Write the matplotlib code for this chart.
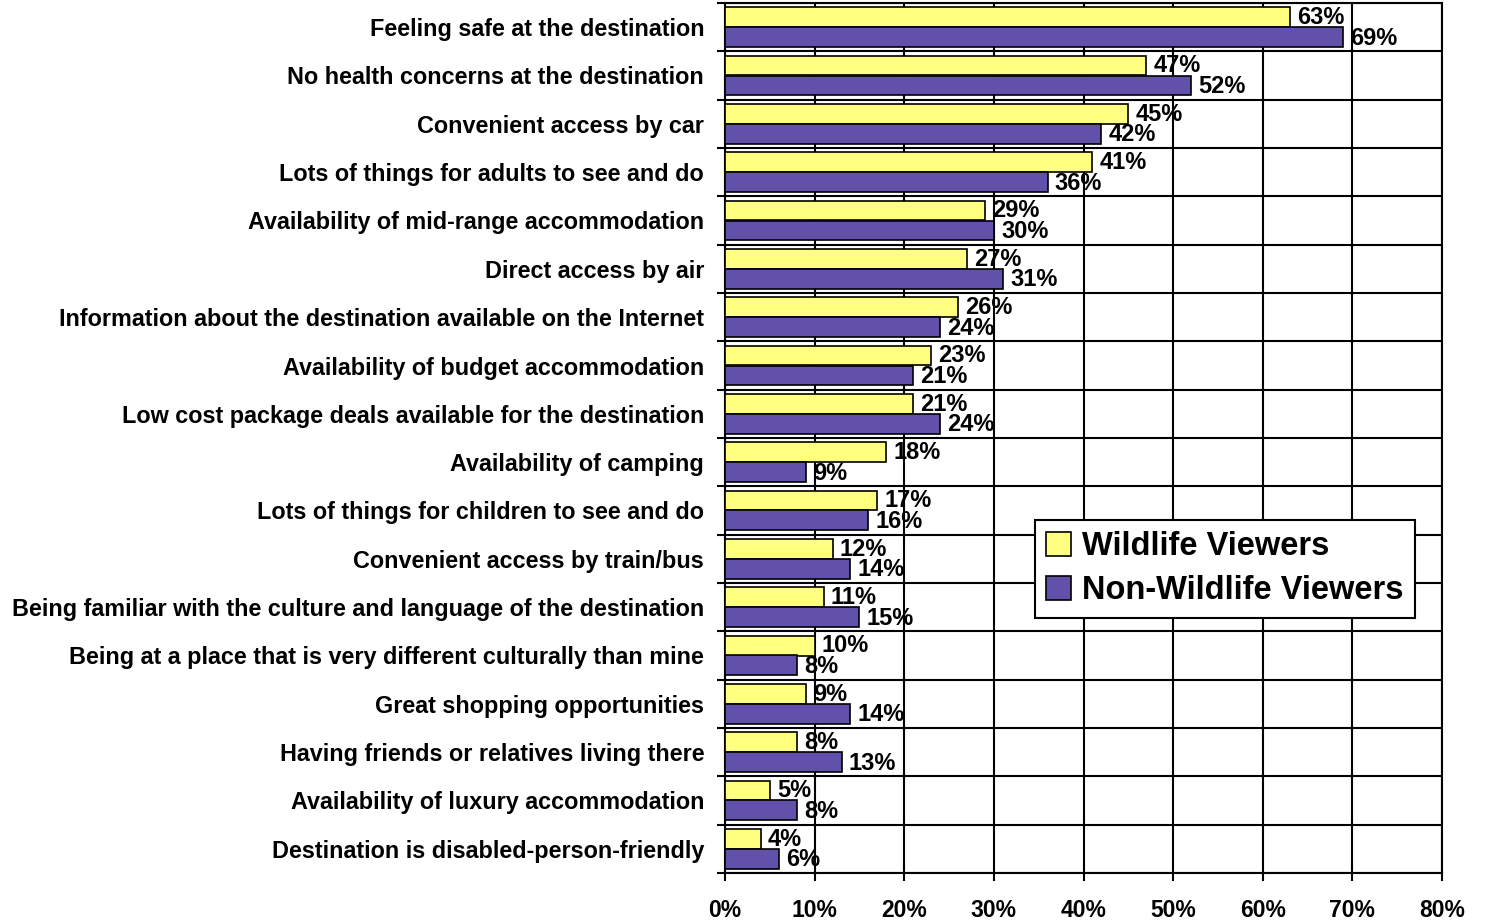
import matplotlib
matplotlib.use("Agg")
import matplotlib.pyplot as plt
import numpy as np

plt.rcParams["font.family"] = ["Liberation Sans", "DejaVu Sans"]

categories = [
    "Feeling safe at the destination",
    "No health concerns at the destination",
    "Convenient access by car",
    "Lots of things for adults to see and do",
    "Availability of mid-range accommodation",
    "Direct access by air",
    "Information about the destination available on the Internet",
    "Availability of budget accommodation",
    "Low cost package deals available for the destination",
    "Availability of camping",
    "Lots of things for children to see and do",
    "Convenient access by train/bus",
    "Being familiar with the culture and language of the destination",
    "Being at a place that is very different culturally than mine",
    "Great shopping opportunities",
    "Having friends or relatives living there",
    "Availability of luxury accommodation",
    "Destination is disabled-person-friendly",
]
wildlife = [63, 47, 45, 41, 29, 27, 26, 23, 21, 18, 17, 12, 11, 10, 9, 8, 5, 4]
non_wildlife = [69, 52, 42, 36, 30, 31, 24, 21, 24, 9, 16, 14, 15, 8, 14, 13, 8, 6]
xticks = [0, 10, 20, 30, 40, 50, 60, 70, 80]

yellow = "#FFFF80"
purple = "#6251AA"

fig = plt.figure(figsize=(14.86, 9.23), dpi=100)
ax = fig.add_axes([725 / 1486, 50 / 923, 717 / 1486, 870 / 923])

y = np.arange(len(categories))
h = 0.41
ax.barh(y - 0.205, wildlife, height=h, color=yellow, edgecolor="black", linewidth=1.2,
        label="Wildlife Viewers", zorder=3)
ax.barh(y + 0.205, non_wildlife, height=h, color=purple, edgecolor="black", linewidth=1.2,
        label="Non-Wildlife Viewers", zorder=3)

for yi, v in zip(y, wildlife):
    ax.text(v + 0.8, yi - 0.2, f"{v}%", va="center", ha="left", fontsize=17,
            fontweight="bold", zorder=4)
for yi, v in zip(y, non_wildlife):
    ax.text(v + 0.8, yi + 0.23, f"{v}%", va="center", ha="left", fontsize=17,
            fontweight="bold", zorder=4)

ax.set_xlim(0, 80)
ax.set_ylim(len(categories) - 0.5, -0.5)
ax.set_xticks(xticks)
ax.set_xticklabels([f"{t}%" for t in xticks], fontsize=16.5, fontweight="bold")
ax.set_yticks(y)
ax.set_yticklabels(categories, fontsize=16.8, fontweight="bold")
ax.set_yticks(np.arange(len(categories) + 1) - 0.5, minor=True)
ax.tick_params(axis="y", which="major", length=0, pad=15)
ax.tick_params(axis="y", which="minor", length=6, width=1.5, direction="out")
ax.tick_params(axis="x", length=6, width=1.5, pad=13)

ax.grid(axis="x", which="major", color="black", linewidth=1.5, zorder=1)
ax.grid(axis="y", which="minor", color="black", linewidth=1.5, zorder=1)
ax.set_axisbelow(True)
for s in ax.spines.values():
    s.set_linewidth(1.5)

leg = ax.legend(loc="upper left", bbox_to_anchor=(0.432, 0.406),
                prop={"weight": "bold", "size": 23.5}, frameon=True, fancybox=False,
                edgecolor="black", framealpha=1, handlelength=0.75, handleheight=0.75,
                handletextpad=0.35, borderpad=0.35, labelspacing=0.4, borderaxespad=0)
leg.get_frame().set_linewidth(1.5)

plt.savefig("out.png", dpi=100)
plt.close()
